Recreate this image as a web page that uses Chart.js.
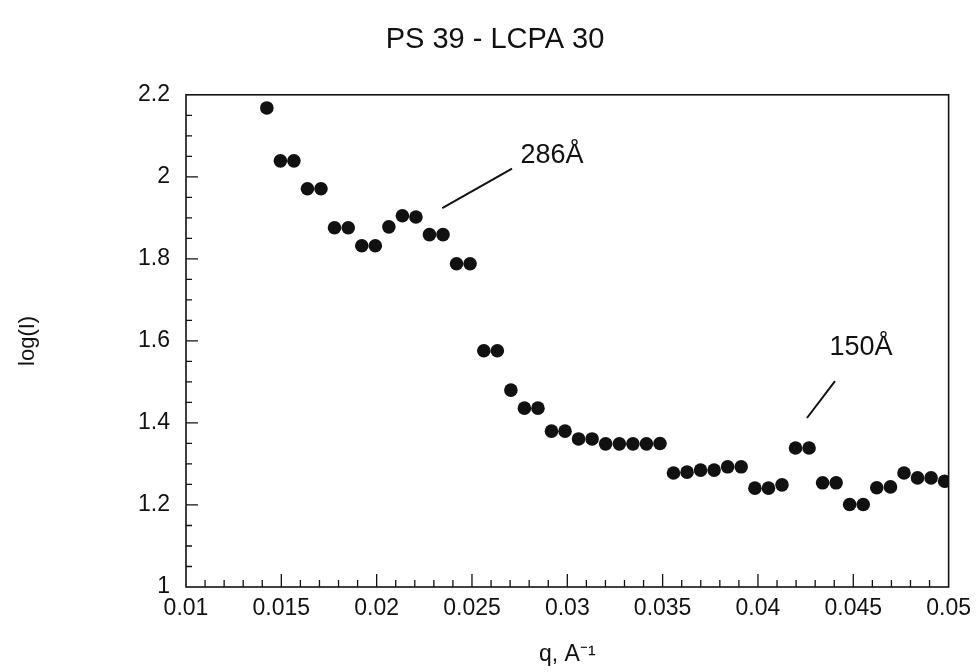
<!DOCTYPE html>
<html><head><meta charset="utf-8">
<script src="https://cdn.jsdelivr.net/npm/chart.js@4.4.0/dist/chart.umd.min.js"></script>
<style>html,body{margin:0;padding:0;background:#fff}</style>
</head><body>
<canvas id="c" width="979" height="672"></canvas>
<script>
// scattering vector q (A^-1)
const qValues = [
  0.01424, 0.01495, 0.01566, 0.01637, 0.01708, 0.01779, 0.01851, 0.01922, 0.01993, 0.02064,
  0.02135, 0.02206, 0.02277, 0.02348, 0.02419, 0.02490, 0.02562, 0.02633, 0.02704, 0.02775,
  0.02846, 0.02917, 0.02988, 0.03059, 0.03130, 0.03201, 0.03273, 0.03344, 0.03415, 0.03486,
  0.03557, 0.03628, 0.03699, 0.03770, 0.03841, 0.03912, 0.03984, 0.04055, 0.04126, 0.04197,
  0.04268, 0.04339, 0.04410, 0.04481, 0.04552, 0.04623, 0.04695, 0.04766, 0.04837, 0.04908,
  0.04979
];
// log(I)
const logIValues = [
  2.168, 2.039, 2.039, 1.971, 1.971, 1.876, 1.876, 1.832, 1.832, 1.878,
  1.905, 1.902, 1.859, 1.859, 1.788, 1.788, 1.576, 1.576, 1.480, 1.436,
  1.436, 1.380, 1.380, 1.361, 1.361, 1.349, 1.349, 1.349, 1.349, 1.350,
  1.278, 1.280, 1.285, 1.285, 1.293, 1.293, 1.241, 1.241, 1.249, 1.339,
  1.339, 1.254, 1.254, 1.201, 1.201, 1.242, 1.244, 1.278, 1.266, 1.266,
  1.258
];
const xTickValues = [0.01, 0.015, 0.02, 0.025, 0.03, 0.035, 0.04, 0.045, 0.05];
const xTickLabels = ['0.01', '0.015', '0.02', '0.025', '0.03', '0.035', '0.04', '0.045', '0.05'];
const yTickValues = [1, 1.2, 1.4, 1.6, 1.8, 2, 2.2];
const yTickLabels = ['1', '1.2', '1.4', '1.6', '1.8', '2', '2.2'];
const chartTitle = 'PS 39 - LCPA 30';
const xTitle = 'q, A\u207B\u00B9';
const yTitle = 'log(I)';
// peak annotations (label, text anchor, leader line ends) in data units
const peakLabels = ['286\u00C5', '150\u00C5'];
const peakTextQ = [0.0292, 0.0454];
const peakTextLogI = [2.051, 1.585];
const leaderFromQ = [0.02344, 0.04257];
const leaderFromLogI = [1.924, 1.412];
const leaderToQ = [0.0271, 0.04404];
const leaderToLogI = [2.02, 1.502];

const FONT = '"Liberation Sans", Arial, Helvetica, sans-serif';

const framePlugin = {
  id: 'frameTicks',
  afterDraw(chart) {
    const ctx = chart.ctx;
    const xs = chart.scales.x, ys = chart.scales.y;
    const {left, right, top, bottom} = chart.chartArea;
    ctx.save();
    ctx.strokeStyle = '#111';
    ctx.lineWidth = 1.6;
    ctx.strokeRect(left, top, right - left, bottom - top);
    ctx.lineWidth = 1.3;
    ctx.beginPath();
    for (let k = 11; k < 50; k++) {
      const px = xs.getPixelForValue(k / 1000);
      const len = (k % 5 === 0) ? 13 : 7;
      ctx.moveTo(px, bottom);
      ctx.lineTo(px, bottom - len);
    }
    for (let k = 21; k < 44; k++) {
      const py = ys.getPixelForValue(k / 20);
      const len = (k % 4 === 0) ? 12 : 6;
      ctx.moveTo(left, py);
      ctx.lineTo(left + len, py);
    }
    ctx.stroke();
    // annotations
    ctx.lineWidth = 2;
    ctx.beginPath();
    for (let i = 0; i < peakLabels.length; i++) {
      ctx.moveTo(xs.getPixelForValue(leaderFromQ[i]), ys.getPixelForValue(leaderFromLogI[i]));
      ctx.lineTo(xs.getPixelForValue(leaderToQ[i]), ys.getPixelForValue(leaderToLogI[i]));
    }
    ctx.stroke();
    ctx.fillStyle = '#111';
    ctx.font = '27px ' + FONT;
    ctx.textAlign = 'center';
    ctx.textBaseline = 'middle';
    for (let i = 0; i < peakLabels.length; i++) {
      ctx.fillText(peakLabels[i], xs.getPixelForValue(peakTextQ[i]), ys.getPixelForValue(peakTextLogI[i]));
    }
    ctx.restore();
  }
};

new Chart(document.getElementById('c'), {
  type: 'scatter',
  data: {
    datasets: [{
      data: qValues.map((q, i) => ({x: q, y: logIValues[i]})),
      pointRadius: 6.8,
      pointHoverRadius: 6.8,
      pointBackgroundColor: '#111',
      pointBorderWidth: 0,
      showLine: false
    }]
  },
  options: {
    responsive: false,
    animation: false,
    devicePixelRatio: 1,
    layout: {padding: {left: 39, right: 28, top: 0, bottom: 0}},
    plugins: {
      legend: {display: false},
      tooltip: {enabled: false},
      title: {
        display: true,
        text: chartTitle,
        color: '#111',
        font: {family: FONT, size: 29, weight: 'normal', lineHeight: 1.2},
        padding: {top: 23, bottom: 37}
      }
    },
    scales: {
      x: {
        type: 'linear',
        min: 0.01, max: 0.05,
        afterBuildTicks: (s) => { s.ticks = xTickValues.map(v => ({value: v})); },
        afterFit: (s) => { s.height = 85; },
        grid: {display: false, drawTicks: false},
        border: {display: false},
        ticks: {
          color: '#111',
          padding: 8,
          maxRotation: 0,
          autoSkip: false,
          font: {family: FONT, size: 23},
          callback: (v, i) => xTickLabels[i]
        },
        title: {
          display: true, text: xTitle, color: '#111',
          font: {family: FONT, size: 23},
          padding: {top: 0, bottom: 4}
        }
      },
      y: {
        type: 'linear',
        min: 1, max: 2.2,
        afterBuildTicks: (s) => { s.ticks = yTickValues.map(v => ({value: v})); },
        afterFit: (s) => { s.width = 147; },
        grid: {display: false, drawTicks: false},
        border: {display: false},
        ticks: {
          color: '#111',
          padding: 16,
          autoSkip: false,
          font: {family: FONT, size: 23},
          callback: (v, i) => yTickLabels[i]
        },
        title: {
          display: true, text: yTitle, color: '#111',
          font: {family: FONT, size: 22},
          padding: {top: -24, bottom: 0}
        }
      }
    }
  },
  plugins: [framePlugin]
});
</script>
</body></html>
